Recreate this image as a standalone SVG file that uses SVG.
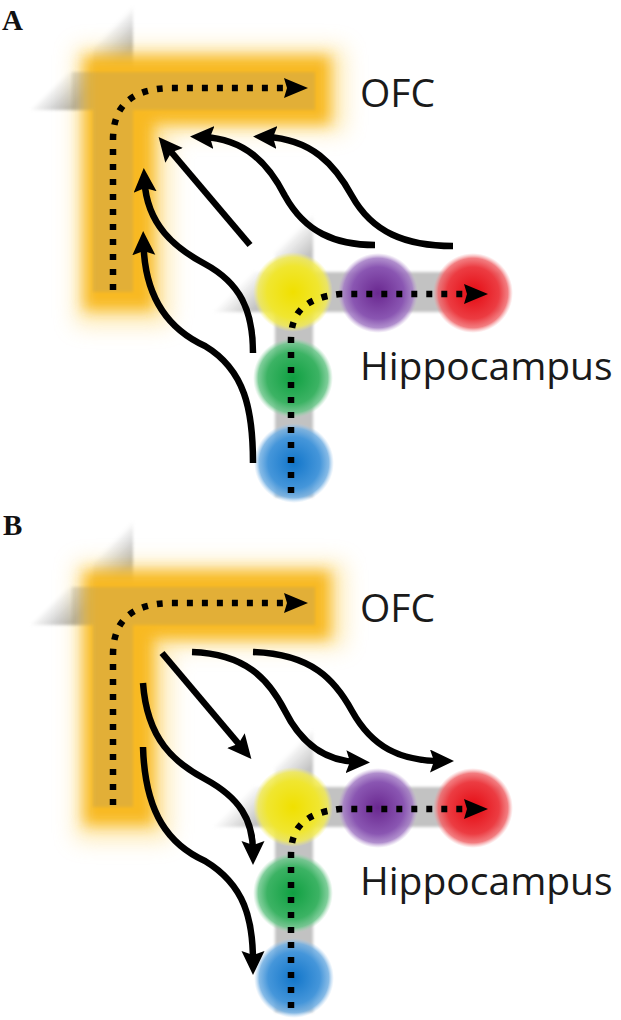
<svg xmlns="http://www.w3.org/2000/svg" width="621" height="1020" viewBox="0 0 621 1020">
<style>
.lbl{font-family:"Liberation Serif","Times New Roman",serif;font-weight:bold;font-size:29px;fill:#111}
.txt{font-family:"Open Sans","Noto Sans",sans-serif;font-size:39px;fill:#1a1a1a}
.dot{fill:none;stroke:#000;stroke-width:6.5;stroke-dasharray:6 9}
.arr{fill:none;stroke:#000;stroke-width:6.5;stroke-linecap:butt}
.fwd{marker-end:url(#ah)}
.rev{marker-start:url(#ahr)}
.glow{fill:#F8B921;filter:url(#blur)}
.halo{fill:#FCD468;opacity:0.5;filter:url(#blur2)}
.shade{fill:#8c8c8c;opacity:0.2;filter:url(#soft)}
</style>
<defs>
<filter id="blur" x="-30%" y="-30%" width="160%" height="160%"><feGaussianBlur stdDeviation="7"/></filter>
<filter id="blur2" x="-30%" y="-30%" width="160%" height="160%"><feGaussianBlur stdDeviation="11"/></filter>
<filter id="soft" x="-10%" y="-10%" width="120%" height="120%"><feGaussianBlur stdDeviation="1.5"/></filter>
<linearGradient id="gOfc" gradientUnits="userSpaceOnUse" x1="69" y1="69" x2="90" y2="90">
<stop offset="0" stop-color="#b0b0b0" stop-opacity="0"/><stop offset="1" stop-color="#b0b0b0"/></linearGradient>
<linearGradient id="gHip" gradientUnits="userSpaceOnUse" x1="262" y1="262" x2="282" y2="282">
<stop offset="0" stop-color="#c2c2c2" stop-opacity="0"/><stop offset="1" stop-color="#c2c2c2"/></linearGradient>
<radialGradient id="cY"><stop offset="0" stop-color="#F0E000"/><stop offset="0.65" stop-color="#F0E630"/><stop offset="0.87" stop-color="#F1EA55" stop-opacity="0.85"/><stop offset="1" stop-color="#F4EE80" stop-opacity="0"/></radialGradient>
<radialGradient id="cP"><stop offset="0" stop-color="#6A2890"/><stop offset="0.65" stop-color="#8A56B2"/><stop offset="0.87" stop-color="#A27AC4" stop-opacity="0.85"/><stop offset="1" stop-color="#BFA0D6" stop-opacity="0"/></radialGradient>
<radialGradient id="cR"><stop offset="0" stop-color="#E50A12"/><stop offset="0.65" stop-color="#EC3C42"/><stop offset="0.87" stop-color="#F0666A" stop-opacity="0.85"/><stop offset="1" stop-color="#F59A9C" stop-opacity="0"/></radialGradient>
<radialGradient id="cG"><stop offset="0" stop-color="#10A042"/><stop offset="0.65" stop-color="#3CB364"/><stop offset="0.87" stop-color="#68C588" stop-opacity="0.85"/><stop offset="1" stop-color="#9ED8AF" stop-opacity="0"/></radialGradient>
<radialGradient id="cB"><stop offset="0" stop-color="#1276CA"/><stop offset="0.65" stop-color="#4596DA"/><stop offset="0.87" stop-color="#70AEE2" stop-opacity="0.85"/><stop offset="1" stop-color="#A6CCEE" stop-opacity="0"/></radialGradient>
<marker id="ah" markerUnits="userSpaceOnUse" markerWidth="26" markerHeight="24" refX="11" refY="11.5" orient="auto" viewBox="0 0 26 24"><path d="M0,0 L24,11.5 L0,23 L4,11.5 Z" fill="#000"/></marker>
<marker id="ahr" markerUnits="userSpaceOnUse" markerWidth="26" markerHeight="24" refX="11" refY="11.5" orient="auto-start-reverse" viewBox="0 0 26 24"><path d="M0,0 L24,11.5 L0,23 L4,11.5 Z" fill="#000"/></marker>
<marker id="dh" markerUnits="userSpaceOnUse" markerWidth="26" markerHeight="22" refX="0" refY="10" orient="auto" viewBox="0 0 26 22"><path d="M0,0 L24,10 L0,20 L3,10 Z" fill="#000"/></marker>
</defs>
<rect width="621" height="1020" fill="#fff"/>

<text class="lbl" x="2" y="30">A</text>
<text class="lbl" x="3" y="535">B</text>

<g id="ofc-a">
<polygon points="30,110 68,72 315,72 315,110" fill="url(#gOfc)" filter="url(#soft)"/>
<polygon points="93,292 93,45 133,5 133,292" fill="url(#gOfc)" filter="url(#soft)"/>
<path class="halo" d="M76,48 H344 V132 H170 V325 H76 Z"/>
<path class="glow" d="M84,56 H330 V124 H154 V310 H84 Z"/>
<path class="shade" d="M72,72 H315 V110 H133 V292 H93 V110 H72 Z"/>
<text class="txt" x="360" y="107">OFC</text>
</g>
<g id="hippocampus-a">
<polygon points="210,312 250,272 500,272 500,312" fill="url(#gHip)" filter="url(#soft)"/>
<polygon points="275,497 275,253 313,215 313,497" fill="url(#gHip)" filter="url(#soft)"/>
<circle cx="293" cy="292" r="40" fill="url(#cY)"/>
<circle cx="378" cy="293" r="40" fill="url(#cP)"/>
<circle cx="473" cy="293" r="40" fill="url(#cR)"/>
<circle cx="293" cy="378" r="40" fill="url(#cG)"/>
<circle cx="294" cy="463" r="40" fill="url(#cB)"/>
<text class="txt" x="360" y="380">Hippocampus</text>
</g>

<g id="ofc-b" transform="translate(0,515)">
<polygon points="30,110 68,72 315,72 315,110" fill="url(#gOfc)" filter="url(#soft)"/>
<polygon points="93,292 93,45 133,5 133,292" fill="url(#gOfc)" filter="url(#soft)"/>
<path class="halo" d="M76,48 H344 V132 H170 V325 H76 Z"/>
<path class="glow" d="M84,56 H330 V124 H154 V310 H84 Z"/>
<path class="shade" d="M72,72 H315 V110 H133 V292 H93 V110 H72 Z"/>
<text class="txt" x="360" y="107">OFC</text>
</g>
<g id="hippocampus-b" transform="translate(0,515)">
<polygon points="210,312 250,272 500,272 500,312" fill="url(#gHip)" filter="url(#soft)"/>
<polygon points="275,497 275,253 313,215 313,497" fill="url(#gHip)" filter="url(#soft)"/>
<circle cx="293" cy="292" r="40" fill="url(#cY)"/>
<circle cx="378" cy="293" r="40" fill="url(#cP)"/>
<circle cx="473" cy="293" r="40" fill="url(#cR)"/>
<circle cx="293" cy="378" r="40" fill="url(#cG)"/>
<circle cx="294" cy="463" r="40" fill="url(#cB)"/>
<text class="txt" x="360" y="380">Hippocampus</text>
</g>

<g id="connectors">
<g id="conn-a">
<path class="dot" marker-end="url(#dh)" d="M113,290 V140 C113,106 131,89 170,88 H284"/>
<path class="dot" marker-end="url(#dh)" d="M291,493 V340 C291,314 303,298 340,294 H464"/>
<path class="arr fwd" d="M250,245 L167,147"/>
<path class="arr fwd" d="M375,245 C335,245 305,232 285,196 C268,163 245,139 203,137"/>
<path class="arr fwd" d="M453,246 C405,246 372,232 352,196 C335,165 312,139 266,137"/>
<path class="arr fwd" d="M253,353 C253,310 240,283 205,264 C175,248 147,225 144.5,181"/>
<path class="arr fwd" d="M253,463 C253,410 245,370 205,346 C170,330 145,300 143.5,244"/>
</g>
<g id="conn-b" transform="translate(0,515)">
<path class="dot" marker-end="url(#dh)" d="M113,290 V140 C113,106 131,89 170,88 H284"/>
<path class="dot" marker-end="url(#dh)" d="M291,493 V340 C291,314 303,298 340,294 H464"/>
<path class="arr rev" d="M243,234 L162,138"/>
<path class="arr rev" d="M357,247 C328,246 303,232 285,196 C268,163 245,139 192,137"/>
<path class="arr rev" d="M441,246 C400,246 372,232 352,196 C335,165 312,139 253,137"/>
<path class="arr rev" d="M253,337 C253,305 240,283 205,264 C175,248 147,225 143,168"/>
<path class="arr rev" d="M253,447 C253,405 245,370 205,346 C170,330 145,300 143,232"/>
</g>
</g>
</svg>
